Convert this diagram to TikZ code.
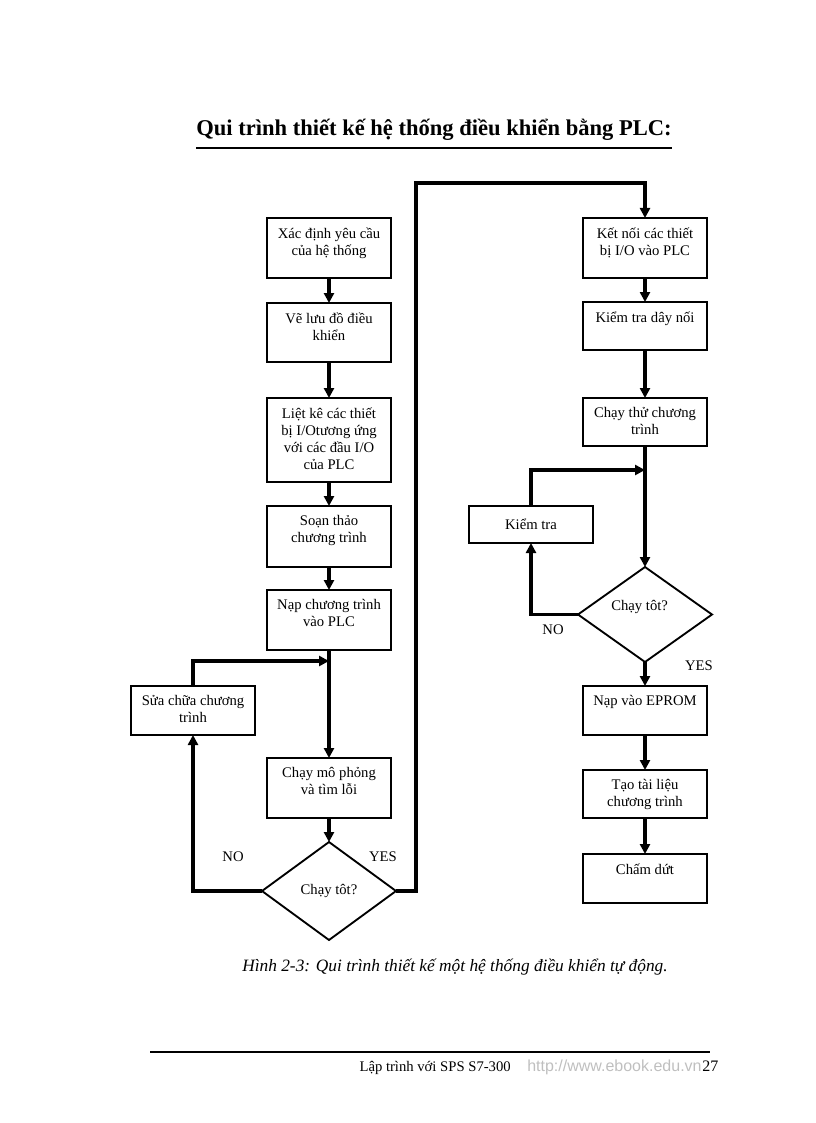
\documentclass[tikz,border=0pt]{standalone}
\usepackage{fontspec}
\setmainfont{Liberation Serif}
\newfontfamily\urlfont{Liberation Sans}
\usetikzlibrary{shapes.geometric, arrows.meta, positioning}
\newcommand{\flowfont}{\fontsize{11}{12.75}\selectfont}
\tikzstyle{box} = [rectangle, draw, line width=1.4pt, minimum width=93pt, inner sep=0pt, outer sep=0pt, font=\flowfont]
\tikzstyle{boxtext} = [anchor=north, align=center, inner sep=0pt, yshift=-7pt, font=\flowfont]
\tikzstyle{decision} = [diamond, draw, line width=1.4pt, inner sep=0pt, outer sep=0pt, font=\flowfont]
\tikzstyle{arrow} = [line width=2.6pt, -{Triangle[length=7.5pt, width=7.5pt]}]

\begin{document}
\begin{tikzpicture}[x=0.75pt, y=-0.75pt]
                \useasboundingbox (0,0) rectangle (816,1123);
                \node (title) [anchor=base, inner sep=0pt, font=\fontsize{16.9}{20}\selectfont\bfseries] at (434,136) {Qui trình thiết kế hệ thống điều khiển bằng PLC:};
                \draw [line width=1.5pt] ([yshift=-8.8pt]title.base west) -- ([yshift=-8.8pt]title.base east);

                \node (b1) [box, minimum height=45pt, label={[boxtext]north:Xác định yêu cầu\\của hệ thống}] at (329,248) {};
                \node (b2) [box, minimum height=44.25pt, below=18.75pt of b1, label={[boxtext]north:Vẽ lưu đồ điều\\khiển}] {};
                \node (b3) [box, minimum height=63pt, below=27pt of b2, label={[boxtext]north:Liệt kê các thiết\\bị I/Otương ứng\\với các đầu I/O\\của PLC}] {};
                \node (b4) [box, minimum height=45.75pt, below=18pt of b3, label={[boxtext]north:Soạn thảo\\chương trình}] {};
                \node (b5) [box, minimum height=45pt, below=17.25pt of b4, label={[boxtext]north:Nạp chương trình\\vào PLC}] {};
                \node (b6) [box, minimum height=45pt, below=81pt of b5, label={[boxtext]north:Chạy mô phỏng\\và tìm lỗi}] {};
                \node (d1) [decision, minimum width=100.5pt, minimum height=73.5pt, below=18pt of b6] {Chạy tôt?};
                \node (sua) [box, minimum height=36.75pt, label={[boxtext]north:Sửa chữa chương\\trình}] at (193,710.5) {};
                \coordinate [below=8.25pt of b5] (j1);
                \coordinate (yesturn) at (416,183);

                \node (r1) [box, minimum height=45pt, label={[boxtext]north:Kết nối các thiết\\bị I/O vào PLC}] at (645,248) {};
                \node (r2) [box, minimum height=36pt, below=18pt of r1, label={[boxtext]north:Kiểm tra dây nối}] {};
                \node (r3) [box, minimum height=36pt, below=36pt of r2, label={[boxtext]north:Chạy thử chương\\trình}] {};
                \node (d2) [decision, minimum width=100.5pt, minimum height=71.25pt, below=90.75pt of r3, label={[anchor=center, font=\flowfont, xshift=-4pt, yshift=6pt]center:Chạy tôt?}] {};
                \node (kt) [box, minimum height=27.75pt] at (531,524.5) {Kiểm tra};
                \node (r4) [box, minimum height=36.75pt, below=18pt of d2, label={[boxtext]north:Nạp vào EPROM}] {};
                \node (r5) [box, minimum height=36pt, below=26.25pt of r4, label={[boxtext]north:Tạo tài liệu\\chương trình}] {};
                \node (r6) [box, minimum height=36.75pt, below=27pt of r5, label={[boxtext]north:Chấm dứt}] {};
                \coordinate [below=18pt of r3] (j2);

                \node (no1) [font=\flowfont] at (233,857) {NO};
                \node (yes1) [font=\flowfont] at (383,857) {YES};
                \node (no2) [font=\flowfont] at (553,630) {NO};
                \node (yes2) [font=\flowfont] at (699,666) {YES};

                \draw [arrow] (b1) -- (b2);
                \draw [arrow] (b2) -- (b3);
                \draw [arrow] (b3) -- (b4);
                \draw [arrow] (b4) -- (b5);
                \draw [arrow] (b5) -- (b6);
                \draw [arrow] (b6) -- (d1);
                \draw [arrow] (d1.west) -| (sua.south);
                \draw [arrow] (sua.north) |- (j1);
                \draw [arrow] (d1.east) -| (yesturn) -| (r1.north);
                \draw [arrow] (r1) -- (r2);
                \draw [arrow] (r2) -- (r3);
                \draw [arrow] (r3) -- (d2);
                \draw [arrow] (d2.west) -| (kt.south);
                \draw [arrow] (kt.north) |- (j2);
                \draw [arrow] (d2) -- (r4);
                \draw [arrow] (r4) -- (r5);
                \draw [arrow] (r5) -- (r6);

                \node (caption) [font=\fontsize{13}{15}\selectfont\itshape] at (455,967) {Hình 2-3: Qui trình thiết kế một hệ thống điều khiển tự động.};
                \draw [line width=0.8pt] (150,1052) -- (710,1052);
                \node (ftext) [anchor=base east, inner sep=0pt, font=\fontsize{11}{13}\selectfont] at (511,1071) {Lập trình với SPS S7-300};
                \node (furl) [anchor=base west, inner sep=0pt, text=black!25, font=\urlfont\fontsize{12}{14}\selectfont] at (527,1071) {http://www.ebook.edu.vn};
                \node (fpage) [anchor=base west, inner sep=0pt, font=\fontsize{12}{14}\selectfont] at (702,1071) {27};
            \end{tikzpicture}
\end{document}
